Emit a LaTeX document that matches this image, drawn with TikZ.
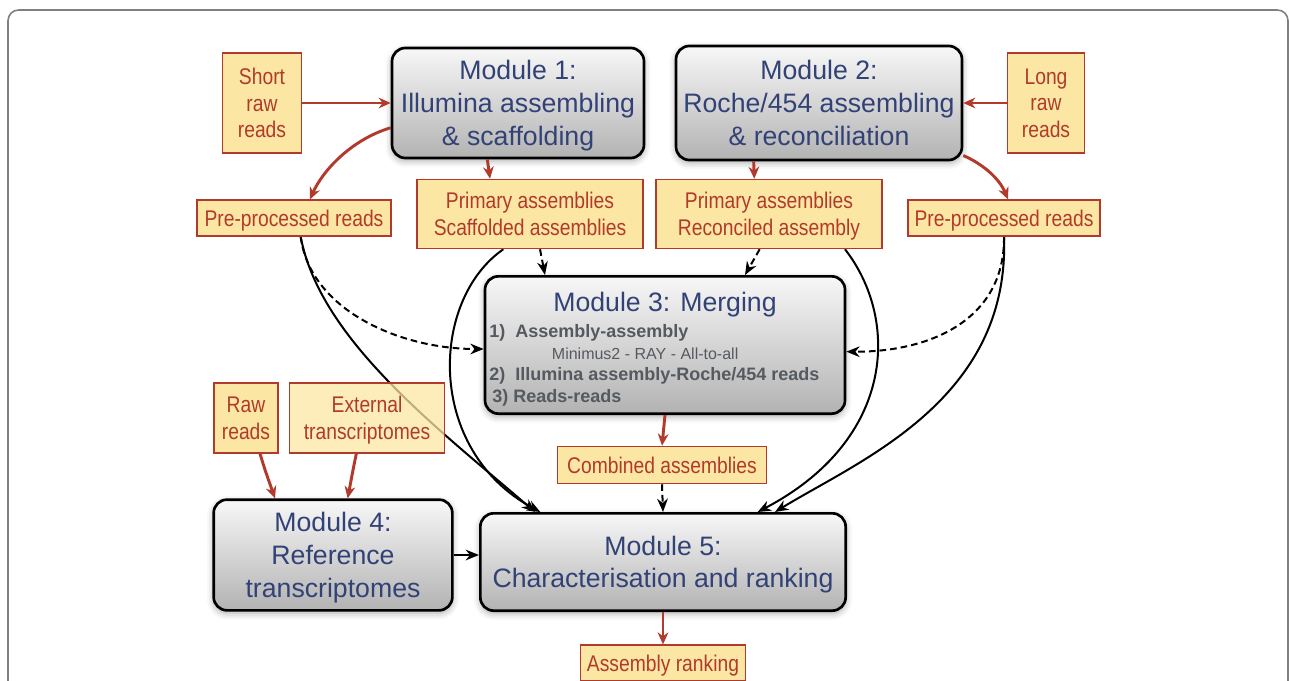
\documentclass[tikz,border=0pt]{standalone}
\usepackage{fontspec}
\setmainfont{Liberation Sans}
\newfontfamily\narrowfont[FakeStretch=0.85]{Liberation Sans}
\usetikzlibrary{arrows.meta,shadows.blur,positioning}
\definecolor{modblue}{RGB}{50,66,118}
\definecolor{boxred}{RGB}{178,58,44}
\definecolor{boxfill}{RGB}{251,231,163}
\definecolor{listgray}{RGB}{85,90,96}
\pgfdeclarelayer{bg}
\pgfsetlayers{bg,main}
\tikzset{
  modbox/.style={draw=black,line width=2pt,rounded corners=10pt,top color=black!3,bottom color=black!30,
    text=modblue,align=center,font=\fontsize{20}{24.5}\selectfont,inner sep=0pt,text depth=0pt,
    blur shadow={shadow xshift=0pt,shadow yshift=-2pt,shadow blur radius=5pt,shadow opacity=35}},
  databox/.style={draw=boxred,line width=0.9pt,fill=boxfill,text=boxred,align=center,
    font=\narrowfont\fontsize{17}{20}\selectfont,inner sep=0pt,text depth=0pt},
  redarrow/.style={draw=boxred,line width=2.2pt,-{Stealth[length=9pt,width=8pt]}},
  flow/.style={line width=1.5pt,-{Stealth[length=10pt,width=8pt]}},
  dflow/.style={flow,dash pattern=on 5pt off 3pt}
}
\begin{document}
\begin{tikzpicture}[x=0.75pt,y=-0.75pt]
\useasboundingbox (0,0) rectangle (1289,681);
\draw[black!50,line width=1.2pt,rounded corners=8pt] (8,10) rectangle (1288,720);

% modules
\node (m1) at (518,103) [modbox,minimum width=189pt,minimum height=82.5pt] {Module 1:\\Illumina assembling\\\& scaffolding};
\node (m2) at (819,103) [modbox,minimum width=214.5pt,minimum height=85.5pt] {Module 2:\\Roche/454 assembling\\\& reconciliation};
\node (m3) at (665,345) [modbox,minimum width=270pt,minimum height=103pt] {};
\node (m4) at (333,555) [modbox,minimum width=179pt,minimum height=83pt] {Module 4:\\Reference\\transcriptomes};
\node (m5) at (663,562) [modbox,minimum width=274pt,minimum height=73pt] {Module 5:\\Characterisation and ranking};
\node (m3t) at ([yshift=32pt]m3.center) [text=modblue,text depth=0pt,font=\fontsize{20}{24}\selectfont] {Module 3: Merging};
\node (m3l) at ([xshift=4pt,yshift=-37pt]m3.north west) [anchor=north west,align=left,inner sep=0pt,text=listgray,
  font=\bfseries\fontsize{13.5}{16.2}\selectfont] {1)\ \ Assembly-assembly\\
  \hspace*{47pt}{\mdseries\fontsize{12}{16.2}\selectfont Minimus2 - RAY - All-to-all}\\
  2)\ \ Illumina assembly-Roche/454 reads\\
  \,3) Reads-reads};

% data
\node (sr) at (262,103) [databox,minimum width=59pt,minimum height=75pt] {Short\\raw\\reads};
\node (lr) at (1046,103) [databox,minimum width=58pt,minimum height=75pt] {Long\\raw\\reads};
\node (pl) at (294,218) [databox,minimum width=145.5pt,minimum height=27pt] {Pre-processed reads};
\node (pr) at (1004,218) [databox,minimum width=144pt,minimum height=27pt] {Pre-processed reads};
\node (pa1) at (530,214) [databox,minimum width=169.5pt,minimum height=52pt] {Primary assemblies\\Scaffolded assemblies};
\node (pa2) at (769,214) [databox,minimum width=169.5pt,minimum height=52pt] {Primary assemblies\\Reconciled assembly};
\node (rr) at (246,418) [databox,minimum width=48pt,minimum height=52.5pt] {Raw\\reads};
\node (et) at (367,418) [databox,minimum width=116pt,minimum height=52.5pt,fill opacity=0.75,text opacity=1] {External\\transcriptomes};
\node (ca) at (662,465) [databox,minimum width=157pt,minimum height=28pt] {Combined assemblies};
\node (ar) at (663,663) [databox,minimum width=124pt,minimum height=27pt] {Assembly ranking};

% red arrows
\draw[redarrow] (sr) -- (m1);
\draw[redarrow] (lr) -- (m2);
\draw[redarrow] (m1.191) .. controls (350,140) and (322,172) .. ([xshift=12pt]pl.north);
\draw[redarrow] ([xshift=-23pt]m1.south) -- ([xshift=-30pt]pa1.north);
\draw[redarrow] ([xshift=-49pt]m2.south) -- ([xshift=-11pt]pa2.north);
\draw[redarrow] (m2.340) .. controls (985,165) and (1000,180) .. ([xshift=3pt]pr.north);
\draw[redarrow] (m3.south) -- (ca.north);
\draw[redarrow] (m5.south) -- (ar.north);
\draw[redarrow] ([xshift=10.5pt]rr.south) .. controls (265,470) .. ([xshift=-43.5pt]m4.north);
\draw[redarrow] ([xshift=-8pt]et.south) .. controls (353,470) .. ([xshift=11pt]m4.north);

% black flows
\begin{pgfonlayer}{bg}
\draw[dflow] ([xshift=5pt]pl.south) .. controls (310,310) and (400,349) .. ([yshift=-3pt]m3.west);
\draw[flow] ([xshift=5pt]pl.south) .. controls (320,340) and (440,430) .. ([xshift=-96pt]m5.north);
\draw[flow] ([xshift=-20pt]pa1.south) .. controls (430,300) and (425,450) .. ([xshift=-92pt]m5.north);
\draw[dflow] ([xshift=7.5pt]pa1.south) -- ([xshift=-90pt]m3.north);
\draw[dflow] ([xshift=-7pt]pa2.south) -- ([xshift=60pt]m3.north);
\draw[flow] ([xshift=57pt]pa2.south) .. controls (900,320) and (895,440) .. ([xshift=71pt]m5.north);
\draw[dflow] (pr.south) .. controls (1005,320) and (930,352) .. ([yshift=-5pt]m3.east);
\draw[flow] (pr.south) .. controls (1010,400) and (860,460) .. ([xshift=84pt]m5.north);
\draw[dflow] (ca.south) -- (m5.north);
\draw[flow] (m4.east) -- (m5.west |- m4.east);
\end{pgfonlayer}
\end{tikzpicture}
\end{document}
